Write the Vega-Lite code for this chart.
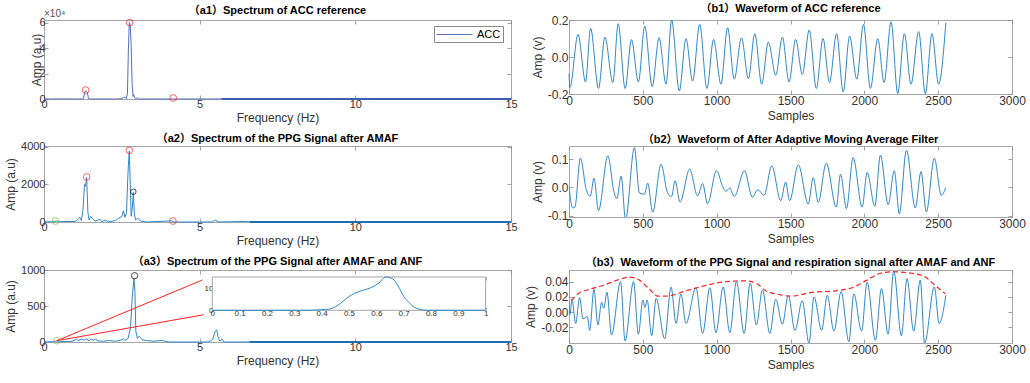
{
  "$schema": "https://vega.github.io/schema/vega-lite/v6.json",
  "padding": {"left": 4, "top": 2, "right": 2, "bottom": 0},
  "background": "white",
  "config": {
    "font": "Liberation Sans",
    "view": {"stroke": "#a6a6a6", "strokeWidth": 1},
    "axis": {
      "domain": false, "grid": false, "tickColor": "#8a8a8a", "tickSize": -4, "tickWidth": 0.8,
      "labelPadding": 3, "labelFontSize": 11, "labelColor": "#333333", "labelFont": "Liberation Sans",
      "labelFlush": false, "labelOverlap": false,
      "titleFontSize": 12, "titleFontWeight": "normal", "titleColor": "#333333", "titleFont": "Liberation Sans", "titlePadding": 3
    },
    "title": {"fontSize": 11, "fontWeight": "bold", "font": "Liberation Sans, Noto Sans CJK SC", "color": "#000000", "offset": 3}
  },
  "datasets": {
    "acc_spec": [
      {"f": 0, "a": 0}, {"f": 0.3, "a": 0}, {"f": 0.35, "a": 150}, {"f": 0.4, "a": 0}, {"f": 0.6, "a": 120}, {"f": 0.65, "a": 0},
      {"f": 0.9, "a": 100}, {"f": 0.95, "a": 0}, {"f": 1.22, "a": 0}, {"f": 1.27, "a": 500}, {"f": 1.31, "a": 5800}, {"f": 1.35, "a": 6500},
      {"f": 1.39, "a": 5200}, {"f": 1.43, "a": 300}, {"f": 1.48, "a": 0}, {"f": 2.3, "a": 0}, {"f": 2.4, "a": 150}, {"f": 2.5, "a": 300},
      {"f": 2.56, "a": 1200}, {"f": 2.6, "a": 1500}, {"f": 2.64, "a": 300}, {"f": 2.68, "a": 4000}, {"f": 2.71, "a": 38000}, {"f": 2.74, "a": 60000},
      {"f": 2.77, "a": 58000}, {"f": 2.8, "a": 42000}, {"f": 2.83, "a": 12000}, {"f": 2.86, "a": 2000}, {"f": 2.88, "a": 3500}, {"f": 2.91, "a": 1000},
      {"f": 2.95, "a": 200}, {"f": 3.0, "a": 900}, {"f": 3.04, "a": 100}, {"f": 3.1, "a": 0}, {"f": 15, "a": 0}
    ],
    "acc_floor": [{"f": 5.7, "a": 0}, {"f": 15, "a": 0}],
    "acc_peaks": [{"f": 1.34, "a": 7000}, {"f": 2.75, "a": 60000}, {"f": 4.15, "a": 800}],
    "amaf_spec": [
      {"f": 0, "a": 0}, {"f": 0.3, "a": 20}, {"f": 0.4, "a": 60}, {"f": 0.5, "a": 20}, {"f": 1.0, "a": 30}, {"f": 1.1, "a": 150},
      {"f": 1.15, "a": 250}, {"f": 1.2, "a": 80}, {"f": 1.25, "a": 600}, {"f": 1.3, "a": 2000}, {"f": 1.33, "a": 1900}, {"f": 1.37, "a": 2380},
      {"f": 1.41, "a": 500}, {"f": 1.45, "a": 100}, {"f": 1.5, "a": 300}, {"f": 1.55, "a": 200}, {"f": 1.6, "a": 100}, {"f": 1.65, "a": 50},
      {"f": 1.8, "a": 150}, {"f": 1.85, "a": 20}, {"f": 2.0, "a": 100}, {"f": 2.05, "a": 0}, {"f": 2.3, "a": 80}, {"f": 2.4, "a": 200},
      {"f": 2.5, "a": 300}, {"f": 2.55, "a": 600}, {"f": 2.6, "a": 250}, {"f": 2.65, "a": 500}, {"f": 2.69, "a": 2300}, {"f": 2.71, "a": 3000},
      {"f": 2.74, "a": 3780}, {"f": 2.77, "a": 2000}, {"f": 2.8, "a": 300}, {"f": 2.84, "a": 800}, {"f": 2.87, "a": 1580}, {"f": 2.9, "a": 500},
      {"f": 2.94, "a": 100}, {"f": 3.0, "a": 200}, {"f": 3.05, "a": 150}, {"f": 3.1, "a": 50}, {"f": 3.3, "a": 0}, {"f": 4.1, "a": 60},
      {"f": 4.2, "a": 0}, {"f": 5.4, "a": 0}, {"f": 5.5, "a": 100}, {"f": 5.6, "a": 0}, {"f": 6.5, "a": 30}, {"f": 6.6, "a": 0}, {"f": 15, "a": 0}
    ],
    "ppg_floor": [{"f": 6.6, "a": 0}, {"f": 15, "a": 0}],
    "amaf_red": [{"f": 1.37, "a": 2400}, {"f": 2.74, "a": 3820}, {"f": 4.14, "a": 50}],
    "amaf_black": [{"f": 2.87, "a": 1610}],
    "amaf_green": [{"f": 0.37, "a": 50}],
    "anf_spec": [
      {"f": 0, "a": 0}, {"f": 0.3, "a": 5}, {"f": 0.4, "a": 15}, {"f": 0.5, "a": 5}, {"f": 0.9, "a": 10}, {"f": 1.0, "a": 30},
      {"f": 1.05, "a": 40}, {"f": 1.1, "a": 20}, {"f": 1.2, "a": 40}, {"f": 1.3, "a": 25}, {"f": 1.35, "a": 45}, {"f": 1.45, "a": 20},
      {"f": 1.5, "a": 40}, {"f": 1.6, "a": 25}, {"f": 1.65, "a": 40}, {"f": 1.75, "a": 15}, {"f": 1.9, "a": 10}, {"f": 2.1, "a": 20},
      {"f": 2.3, "a": 10}, {"f": 2.5, "a": 30}, {"f": 2.55, "a": 45}, {"f": 2.6, "a": 20}, {"f": 2.7, "a": 50}, {"f": 2.78, "a": 200},
      {"f": 2.83, "a": 600}, {"f": 2.89, "a": 880}, {"f": 2.92, "a": 700}, {"f": 2.95, "a": 150}, {"f": 3.0, "a": 50}, {"f": 3.05, "a": 80},
      {"f": 3.1, "a": 60}, {"f": 3.15, "a": 30}, {"f": 3.3, "a": 20}, {"f": 3.5, "a": 10}, {"f": 3.8, "a": 20}, {"f": 4.0, "a": 0},
      {"f": 5.3, "a": 0}, {"f": 5.42, "a": 40}, {"f": 5.5, "a": 150}, {"f": 5.55, "a": 165}, {"f": 5.6, "a": 50}, {"f": 5.65, "a": 10},
      {"f": 5.72, "a": 40}, {"f": 5.78, "a": 0}, {"f": 15, "a": 0}
    ],
    "anf_black": [{"f": 2.91, "a": 921}],
    "anf_green": [{"f": 0.41, "a": 18}],
    "zoom_lines": [
      {"edge": "upper", "f": 0.41, "a": 18}, {"edge": "upper", "f": 5.09, "a": 862},
      {"edge": "lower", "f": 0.41, "a": 18}, {"edge": "lower", "f": 5.12, "a": 378}
    ],
    "resp_band": [
      {"hz": 0, "amp": 0}, {"hz": 0.35, "amp": 0}, {"hz": 0.4, "amp": 0.3}, {"hz": 0.43, "amp": 0.6}, {"hz": 0.45, "amp": 1.6},
      {"hz": 0.47, "amp": 3.3}, {"hz": 0.5, "amp": 6.3}, {"hz": 0.52, "amp": 7.8}, {"hz": 0.55, "amp": 9.2}, {"hz": 0.58, "amp": 10.4},
      {"hz": 0.61, "amp": 12.6}, {"hz": 0.634, "amp": 15.35}, {"hz": 0.66, "amp": 14.5}, {"hz": 0.68, "amp": 11.2}, {"hz": 0.7, "amp": 6.5},
      {"hz": 0.72, "amp": 3.5}, {"hz": 0.74, "amp": 1.4}, {"hz": 0.76, "amp": 0.4}, {"hz": 0.78, "amp": 0}, {"hz": 1, "amp": 0}
    ],
    "inset_frame": [{"x0": 0, "x1": 1, "y0": 0, "y1": 15.35}],
    "acc_wave": [
      {"s": 0, "v": -0.09}, {"s": 6, "v": -0.165}, {"s": 61, "v": 0.122}, {"s": 112, "v": -0.135}, {"s": 146, "v": 0.155}, {"s": 200, "v": -0.17},
      {"s": 243, "v": 0.108}, {"s": 297, "v": -0.138}, {"s": 333, "v": 0.18}, {"s": 380, "v": -0.17}, {"s": 423, "v": 0.094}, {"s": 470, "v": -0.135},
      {"s": 513, "v": 0.167}, {"s": 563, "v": -0.16}, {"s": 610, "v": 0.104}, {"s": 657, "v": -0.147}, {"s": 695, "v": 0.2}, {"s": 747, "v": -0.183},
      {"s": 792, "v": 0.099}, {"s": 837, "v": -0.13}, {"s": 885, "v": 0.176}, {"s": 934, "v": -0.17}, {"s": 979, "v": 0.095}, {"s": 1029, "v": -0.147},
      {"s": 1074, "v": 0.158}, {"s": 1119, "v": -0.12}, {"s": 1168, "v": 0.104}, {"s": 1215, "v": -0.117}, {"s": 1258, "v": 0.126}, {"s": 1305, "v": -0.147},
      {"s": 1350, "v": 0.081}, {"s": 1400, "v": -0.099}, {"s": 1445, "v": 0.108}, {"s": 1490, "v": -0.135}, {"s": 1535, "v": 0.095}, {"s": 1580, "v": -0.094},
      {"s": 1627, "v": 0.146}, {"s": 1675, "v": -0.17}, {"s": 1720, "v": 0.1}, {"s": 1764, "v": -0.138}, {"s": 1812, "v": 0.126}, {"s": 1857, "v": -0.189},
      {"s": 1900, "v": 0.113}, {"s": 1949, "v": -0.12}, {"s": 1994, "v": 0.176}, {"s": 2041, "v": -0.17}, {"s": 2091, "v": 0.099}, {"s": 2134, "v": -0.138},
      {"s": 2181, "v": 0.19}, {"s": 2226, "v": -0.198}, {"s": 2271, "v": 0.126}, {"s": 2316, "v": -0.147}, {"s": 2368, "v": 0.137}, {"s": 2413, "v": -0.198},
      {"s": 2458, "v": 0.126}, {"s": 2503, "v": -0.147}, {"s": 2552, "v": 0.185}
    ],
    "amaf_wave": [
      {"s": 0, "v": 0}, {"s": 25, "v": -0.073}, {"s": 40, "v": -0.07}, {"s": 77, "v": 0.104}, {"s": 117, "v": -0.008}, {"s": 144, "v": -0.032},
      {"s": 169, "v": 0.033}, {"s": 200, "v": -0.082}, {"s": 263, "v": 0.112}, {"s": 304, "v": -0.014}, {"s": 324, "v": -0.04}, {"s": 353, "v": 0.04},
      {"s": 383, "v": -0.114}, {"s": 443, "v": 0.141}, {"s": 477, "v": -0.02}, {"s": 511, "v": -0.024}, {"s": 533, "v": 0.015}, {"s": 567, "v": -0.088},
      {"s": 623, "v": 0.082}, {"s": 668, "v": -0.02}, {"s": 695, "v": -0.032}, {"s": 718, "v": 0.024}, {"s": 752, "v": -0.052}, {"s": 817, "v": 0.065},
      {"s": 871, "v": -0.03}, {"s": 905, "v": 0.014}, {"s": 938, "v": -0.058}, {"s": 999, "v": 0.059}, {"s": 1040, "v": 0.004}, {"s": 1062, "v": -0.014},
      {"s": 1089, "v": -0.002}, {"s": 1119, "v": -0.032}, {"s": 1188, "v": 0.059}, {"s": 1242, "v": -0.035}, {"s": 1278, "v": -0.008}, {"s": 1321, "v": -0.028},
      {"s": 1373, "v": 0.076}, {"s": 1434, "v": -0.047}, {"s": 1467, "v": 0.019}, {"s": 1494, "v": -0.047}, {"s": 1553, "v": 0.08}, {"s": 1620, "v": -0.059},
      {"s": 1654, "v": 0.035}, {"s": 1688, "v": -0.053}, {"s": 1742, "v": 0.086}, {"s": 1810, "v": -0.07}, {"s": 1839, "v": 0.047}, {"s": 1879, "v": -0.075},
      {"s": 1924, "v": 0.106}, {"s": 1985, "v": -0.07}, {"s": 2019, "v": 0.053}, {"s": 2071, "v": -0.067}, {"s": 2109, "v": 0.115}, {"s": 2161, "v": -0.061},
      {"s": 2203, "v": 0.059}, {"s": 2237, "v": -0.094}, {"s": 2285, "v": 0.132}, {"s": 2345, "v": -0.073}, {"s": 2384, "v": 0.056}, {"s": 2420, "v": -0.087},
      {"s": 2474, "v": 0.104}, {"s": 2521, "v": -0.028}, {"s": 2552, "v": 0}
    ],
    "anf_wave": [
      {"s": 0, "v": 0.013}, {"s": 7, "v": -0.003}, {"s": 20, "v": 0.017}, {"s": 45, "v": -0.015}, {"s": 72, "v": 0.019}, {"s": 95, "v": -0.009},
      {"s": 124, "v": -0.006}, {"s": 140, "v": -0.024}, {"s": 169, "v": 0.03}, {"s": 196, "v": -0.017}, {"s": 221, "v": 0.013}, {"s": 235, "v": 0.005},
      {"s": 257, "v": 0.026}, {"s": 288, "v": -0.03}, {"s": 349, "v": 0.04}, {"s": 380, "v": -0.038}, {"s": 437, "v": 0.04}, {"s": 470, "v": -0.029},
      {"s": 500, "v": 0.016}, {"s": 514, "v": 0.006}, {"s": 529, "v": 0.016}, {"s": 560, "v": -0.031}, {"s": 590, "v": 0.018}, {"s": 648, "v": -0.035},
      {"s": 691, "v": 0.033}, {"s": 725, "v": -0.015}, {"s": 758, "v": 0.024}, {"s": 792, "v": -0.015}, {"s": 860, "v": 0.032}, {"s": 905, "v": -0.028},
      {"s": 954, "v": 0.032}, {"s": 995, "v": -0.027}, {"s": 1044, "v": 0.033}, {"s": 1089, "v": -0.027}, {"s": 1134, "v": 0.04}, {"s": 1186, "v": -0.028},
      {"s": 1227, "v": 0.038}, {"s": 1269, "v": -0.017}, {"s": 1310, "v": 0.029}, {"s": 1360, "v": -0.028}, {"s": 1400, "v": 0.017}, {"s": 1445, "v": -0.016},
      {"s": 1485, "v": 0.022}, {"s": 1530, "v": -0.024}, {"s": 1580, "v": 0.015}, {"s": 1625, "v": -0.041}, {"s": 1659, "v": 0.02}, {"s": 1711, "v": -0.024},
      {"s": 1749, "v": 0.022}, {"s": 1794, "v": -0.025}, {"s": 1843, "v": 0.027}, {"s": 1895, "v": -0.039}, {"s": 1929, "v": 0.024}, {"s": 1981, "v": -0.025},
      {"s": 2019, "v": 0.039}, {"s": 2075, "v": -0.037}, {"s": 2116, "v": 0.031}, {"s": 2161, "v": -0.029}, {"s": 2199, "v": 0.054}, {"s": 2251, "v": -0.031},
      {"s": 2289, "v": 0.044}, {"s": 2334, "v": -0.025}, {"s": 2379, "v": 0.042}, {"s": 2408, "v": -0.041}, {"s": 2474, "v": 0.033}, {"s": 2507, "v": -0.015},
      {"s": 2552, "v": 0.022}
    ],
    "resp_env": [
      {"s": 16, "v": 0.015}, {"s": 61, "v": 0.024}, {"s": 140, "v": 0.03}, {"s": 230, "v": 0.035}, {"s": 342, "v": 0.043}, {"s": 410, "v": 0.046},
      {"s": 477, "v": 0.042}, {"s": 545, "v": 0.03}, {"s": 601, "v": 0.021}, {"s": 657, "v": 0.021}, {"s": 792, "v": 0.028}, {"s": 927, "v": 0.035},
      {"s": 1062, "v": 0.04}, {"s": 1197, "v": 0.041}, {"s": 1276, "v": 0.037}, {"s": 1332, "v": 0.028}, {"s": 1400, "v": 0.024}, {"s": 1501, "v": 0.021},
      {"s": 1647, "v": 0.026}, {"s": 1805, "v": 0.028}, {"s": 1918, "v": 0.032}, {"s": 2008, "v": 0.041}, {"s": 2109, "v": 0.051}, {"s": 2188, "v": 0.053},
      {"s": 2323, "v": 0.051}, {"s": 2413, "v": 0.046}, {"s": 2480, "v": 0.035}, {"s": 2548, "v": 0.024}
    ]
  },
  "spacing": 6,
  "hconcat": [
    {
      "spacing": 8,
      "vconcat": [
        {
          "width": 467, "height": 79,
          "title": {"text": "（a1）Spectrum of ACC reference", "offset": -7},
          "layer": [
            {
              "data": {"name": "acc_spec"},
              "transform": [{"calculate": "'ACC'", "as": "series"}],
              "mark": {"type": "line", "strokeWidth": 1},
              "encoding": {
                "x": {"field": "f", "type": "quantitative", "scale": {"domain": [0, 15], "nice": false}, "axis": {"values": [0, 5, 10, 15], "title": "Frequency (Hz)"}},
                "y": {"field": "a", "type": "quantitative", "scale": {"domain": [0, 62000], "nice": false}, "axis": {"values": [0, 20000, 40000, 60000], "labelExpr": "datum.value / 10000", "title": "Amp (a.u)", "titlePadding": -5}},
                "color": {"field": "series", "type": "nominal", "scale": {"range": ["#5470c0"]},
                  "legend": {"orient": "none", "legendX": 390, "legendY": 6, "title": null, "symbolType": "M-1,0H5", "symbolSize": 144, "symbolStrokeWidth": 1,
                    "labelOffset": 28, "labelFontSize": 11, "labelColor": "#000000", "strokeColor": "#8a8a8a", "fillColor": "white", "padding": 2, "rowPadding": 0}}
              }
            },
            {
              "data": {"name": "acc_floor"},
              "mark": {"type": "line", "strokeWidth": 2, "color": "#3e5fae"},
              "encoding": {"x": {"field": "f", "type": "quantitative", "axis": null}, "y": {"field": "a", "type": "quantitative", "axis": null}}
            },
            {
              "data": {"name": "acc_peaks"},
              "mark": {"type": "point", "shape": "circle", "filled": false, "size": 45, "stroke": "#ff2020", "strokeWidth": 1},
              "encoding": {"x": {"field": "f", "type": "quantitative", "axis": null}, "y": {"field": "a", "type": "quantitative", "axis": null}}
            },
            {
              "data": {"values": [{"f": 0, "a": 62000, "t": "×10⁴"}]},
              "mark": {"type": "text", "align": "left", "baseline": "bottom", "dy": -1, "fontSize": 10, "color": "#555555"},
              "encoding": {"x": {"field": "f", "type": "quantitative", "axis": null}, "y": {"field": "a", "type": "quantitative", "axis": null}, "text": {"field": "t"}}
            },
            {
              "data": {"name": "acc_peaks"},
              "mark": {"type": "point", "opacity": 0},
              "encoding": {
                "x": {"field": "f", "type": "quantitative", "axis": {"orient": "top", "labels": false, "title": null, "values": [0, 5, 10, 15]}},
                "y": {"field": "a", "type": "quantitative", "axis": {"orient": "right", "labels": false, "title": null, "values": [0, 20000, 40000, 60000]}}
              }
            }
          ],
          "resolve": {"axis": {"x": "independent", "y": "independent"}}
        },
        {
          "width": 467, "height": 76,
          "title": {"text": "（a2）Spectrum of the PPG Signal after AMAF", "offset": -3},
          "layer": [
            {
              "data": {"name": "amaf_spec"},
              "mark": {"type": "line", "strokeWidth": 1, "color": "#2f87cc"},
              "encoding": {
                "x": {"field": "f", "type": "quantitative", "scale": {"domain": [0, 15], "nice": false}, "axis": {"values": [0, 5, 10, 15], "title": "Frequency (Hz)"}},
                "y": {"field": "a", "type": "quantitative", "scale": {"domain": [0, 4050], "nice": false}, "axis": {"values": [0, 2000, 4000], "format": "d", "title": "Amp (a.u)"}}
              }
            },
            {
              "data": {"name": "ppg_floor"},
              "mark": {"type": "line", "strokeWidth": 2, "color": "#1f6fb5"},
              "encoding": {"x": {"field": "f", "type": "quantitative", "axis": null}, "y": {"field": "a", "type": "quantitative", "axis": null}}
            },
            {
              "data": {"name": "amaf_red"},
              "mark": {"type": "point", "shape": "circle", "filled": false, "size": 45, "stroke": "#ff2020", "strokeWidth": 1},
              "encoding": {"x": {"field": "f", "type": "quantitative", "axis": null}, "y": {"field": "a", "type": "quantitative", "axis": null}}
            },
            {
              "data": {"name": "amaf_black"},
              "mark": {"type": "point", "shape": "circle", "filled": false, "size": 30, "stroke": "#000000", "strokeWidth": 1},
              "encoding": {"x": {"field": "f", "type": "quantitative", "axis": null}, "y": {"field": "a", "type": "quantitative", "axis": null}}
            },
            {
              "data": {"name": "amaf_green"},
              "mark": {"type": "point", "shape": "circle", "filled": false, "size": 45, "stroke": "#77c040", "strokeWidth": 1},
              "encoding": {"x": {"field": "f", "type": "quantitative", "axis": null}, "y": {"field": "a", "type": "quantitative", "axis": null}}
            },
            {
              "data": {"name": "amaf_red"},
              "mark": {"type": "point", "opacity": 0},
              "encoding": {
                "x": {"field": "f", "type": "quantitative", "axis": {"orient": "top", "labels": false, "title": null, "values": [0, 5, 10, 15]}},
                "y": {"field": "a", "type": "quantitative", "axis": {"orient": "right", "labels": false, "title": null, "values": [0, 2000, 4000]}}
              }
            }
          ],
          "resolve": {"axis": {"x": "independent", "y": "independent"}}
        },
        {
          "width": 467, "height": 72,
          "title": {"text": "（a3）Spectrum of the PPG Signal after AMAF and ANF", "offset": -3},
          "layer": [
            {
              "layer": [
                {
                  "data": {"name": "anf_spec"},
                  "mark": {"type": "line", "strokeWidth": 1, "color": "#2f87cc"},
                  "encoding": {
                    "x": {"field": "f", "type": "quantitative", "scale": {"domain": [0, 15], "nice": false}, "axis": {"values": [0, 5, 10, 15], "title": "Frequency (Hz)"}},
                    "y": {"field": "a", "type": "quantitative", "scale": {"domain": [0, 1000], "nice": false}, "axis": {"values": [0, 500, 1000], "format": "d", "title": "Amp (a.u)"}}
                  }
                },
                {
                  "data": {"name": "ppg_floor"},
                  "mark": {"type": "line", "strokeWidth": 2, "color": "#1f6fb5"},
                  "encoding": {"x": {"field": "f", "type": "quantitative", "axis": null}, "y": {"field": "a", "type": "quantitative", "axis": null}}
                },
                {
                  "data": {"name": "zoom_lines"},
                  "mark": {"type": "line", "strokeWidth": 1, "color": "#ff2020"},
                  "encoding": {"x": {"field": "f", "type": "quantitative", "axis": null}, "y": {"field": "a", "type": "quantitative", "axis": null}, "detail": {"field": "edge"}}
                },
                {
                  "data": {"name": "anf_black"},
                  "mark": {"type": "point", "shape": "circle", "filled": false, "size": 40, "stroke": "#000000", "strokeWidth": 1},
                  "encoding": {"x": {"field": "f", "type": "quantitative", "axis": null}, "y": {"field": "a", "type": "quantitative", "axis": null}}
                },
                {
                  "data": {"name": "anf_green"},
                  "mark": {"type": "point", "shape": "circle", "filled": false, "size": 45, "stroke": "#77c040", "strokeWidth": 1},
                  "encoding": {"x": {"field": "f", "type": "quantitative", "axis": null}, "y": {"field": "a", "type": "quantitative", "axis": null}}
                },
                {
                  "data": {"name": "anf_black"},
                  "mark": {"type": "point", "opacity": 0},
                  "encoding": {
                    "x": {"field": "f", "type": "quantitative", "axis": {"orient": "top", "labels": false, "title": null, "values": [0, 5, 10, 15]}},
                    "y": {"field": "a", "type": "quantitative", "axis": {"orient": "right", "labels": false, "title": null, "values": [0, 500, 1000]}}
                  }
                }
              ],
              "resolve": {"axis": {"x": "independent", "y": "independent"}}
            },
            {
              "layer": [
                {
                  "data": {"name": "inset_frame"},
                  "mark": {"type": "rect", "fill": "white", "stroke": "#a6a6a6", "strokeWidth": 1},
                  "encoding": {
                    "x": {"field": "x0", "type": "quantitative", "scale": {"domain": [-0.6158, 1.0929], "nice": false, "zero": false},
                      "axis": {"orient": "bottom", "offset": -32, "values": [0, 0.1, 0.2, 0.3, 0.4, 0.5, 0.6, 0.7, 0.8, 0.9, 1], "format": "~g", "title": null, "labelFontSize": 8, "labelPadding": 2, "tickSize": -3}},
                    "x2": {"field": "x1"},
                    "y": {"field": "y0", "type": "quantitative", "scale": {"domain": [-14.6, 18.57], "nice": false, "zero": false},
                      "axis": {"orient": "left", "offset": -168, "values": [0, 10], "title": null, "labelFontSize": 8, "labelPadding": 2, "tickSize": -3}},
                    "y2": {"field": "y1"}
                  }
                },
                {
                  "data": {"name": "resp_band"},
                  "mark": {"type": "line", "strokeWidth": 1, "color": "#2f87cc", "interpolate": "monotone"},
                  "encoding": {"x": {"field": "hz", "type": "quantitative", "axis": null}, "y": {"field": "amp", "type": "quantitative", "axis": null}}
                },
                {
                  "data": {"name": "inset_frame"},
                  "mark": {"type": "point", "opacity": 0},
                  "encoding": {
                    "x": {"field": "x0", "type": "quantitative", "axis": {"orient": "top", "offset": -7, "labels": false, "title": null, "tickSize": -3, "values": [0, 0.1, 0.2, 0.3, 0.4, 0.5, 0.6, 0.7, 0.8, 0.9, 1]}},
                    "y": {"field": "y0", "type": "quantitative", "axis": {"orient": "right", "offset": -26, "labels": false, "title": null, "tickSize": -3, "values": [0, 10]}}
                  }
                }
              ],
              "resolve": {"axis": {"x": "independent", "y": "independent"}}
            }
          ],
          "resolve": {"scale": {"x": "independent", "y": "independent"}, "axis": {"x": "independent", "y": "independent"}}
        }
      ]
    },
    {
      "spacing": 11,
      "vconcat": [
        {
          "width": 443, "height": 74,
          "title": {"text": "（b1）Waveform of ACC reference", "offset": 0},
          "data": {"name": "acc_wave"},
          "layer": [
            {
              "mark": {"type": "line", "strokeWidth": 1, "color": "#2f87cc", "interpolate": "monotone"},
              "encoding": {
                "x": {"field": "s", "type": "quantitative", "scale": {"domain": [0, 3000], "nice": false}, "axis": {"values": [0, 500, 1000, 1500, 2000, 2500, 3000], "format": "d", "title": "Samples", "labelFontSize": 12, "labelPadding": 5, "titlePadding": 4}},
                "y": {"field": "v", "type": "quantitative", "scale": {"domain": [-0.2, 0.2], "nice": false}, "axis": {"values": [-0.2, 0, 0.2], "title": "Amp (v)", "labelFontSize": 12, "labelPadding": 5, "labelExpr": "replace(datum.label, '−', '-')"}}
              }
            },
            {
              "mark": {"type": "point", "opacity": 0},
              "encoding": {
                "x": {"field": "s", "type": "quantitative", "axis": {"orient": "top", "labels": false, "title": null, "values": [0, 500, 1000, 1500, 2000, 2500, 3000]}},
                "y": {"field": "v", "type": "quantitative", "axis": {"orient": "right", "labels": false, "title": null, "values": [-0.2, 0, 0.2]}}
              }
            }
          ],
          "resolve": {"axis": {"x": "independent", "y": "independent"}}
        },
        {
          "width": 443, "height": 71,
          "title": {"text": "（b2）Waveform of After Adaptive Moving Average Filter", "offset": 0},
          "data": {"name": "amaf_wave"},
          "layer": [
            {
              "mark": {"type": "line", "strokeWidth": 1, "color": "#2f87cc", "interpolate": "monotone", "clip": true},
              "encoding": {
                "x": {"field": "s", "type": "quantitative", "scale": {"domain": [0, 3000], "nice": false}, "axis": {"values": [0, 500, 1000, 1500, 2000, 2500, 3000], "format": "d", "title": "Samples", "labelFontSize": 12, "labelPadding": 5, "titlePadding": 4}},
                "y": {"field": "v", "type": "quantitative", "scale": {"domain": [-0.105, 0.147], "nice": false, "zero": false}, "axis": {"values": [-0.1, 0, 0.1], "title": "Amp (v)", "labelFontSize": 12, "labelPadding": 5, "labelExpr": "replace(datum.label, '−', '-')"}}
              }
            },
            {
              "mark": {"type": "point", "opacity": 0},
              "encoding": {
                "x": {"field": "s", "type": "quantitative", "axis": {"orient": "top", "labels": false, "title": null, "values": [0, 500, 1000, 1500, 2000, 2500, 3000]}},
                "y": {"field": "v", "type": "quantitative", "axis": {"orient": "right", "labels": false, "title": null, "values": [-0.1, 0, 0.1]}}
              }
            }
          ],
          "resolve": {"axis": {"x": "independent", "y": "independent"}}
        },
        {
          "width": 443, "height": 73,
          "title": {"text": "（b3）Waveform of the PPG Signal and respiration signal after AMAF and ANF", "offset": 0},
          "layer": [
            {
              "data": {"name": "anf_wave"},
              "mark": {"type": "line", "strokeWidth": 1, "color": "#2f87cc", "interpolate": "monotone", "clip": true},
              "encoding": {
                "x": {"field": "s", "type": "quantitative", "scale": {"domain": [0, 3000], "nice": false}, "axis": {"values": [0, 500, 1000, 1500, 2000, 2500, 3000], "format": "d", "title": "Samples", "labelFontSize": 12, "labelPadding": 5, "titlePadding": 4}},
                "y": {"field": "v", "type": "quantitative", "scale": {"domain": [-0.0406, 0.0553], "nice": false, "zero": false}, "axis": {"values": [-0.02, 0, 0.02, 0.04], "title": "Amp (v)", "labelFontSize": 12, "labelPadding": 5, "labelExpr": "replace(datum.label, '−', '-')"}}
              }
            },
            {
              "data": {"name": "resp_env"},
              "mark": {"type": "line", "strokeWidth": 1.2, "color": "#ff2020", "strokeDash": [5, 3], "interpolate": "monotone"},
              "encoding": {"x": {"field": "s", "type": "quantitative", "axis": null}, "y": {"field": "v", "type": "quantitative", "axis": null}}
            },
            {
              "data": {"name": "anf_wave"},
              "mark": {"type": "point", "opacity": 0},
              "encoding": {
                "x": {"field": "s", "type": "quantitative", "axis": {"orient": "top", "labels": false, "title": null, "values": [0, 500, 1000, 1500, 2000, 2500, 3000]}},
                "y": {"field": "v", "type": "quantitative", "axis": {"orient": "right", "labels": false, "title": null, "values": [-0.02, 0, 0.02, 0.04]}}
              }
            }
          ],
          "resolve": {"axis": {"x": "independent", "y": "independent"}}
        }
      ]
    }
  ]
}
